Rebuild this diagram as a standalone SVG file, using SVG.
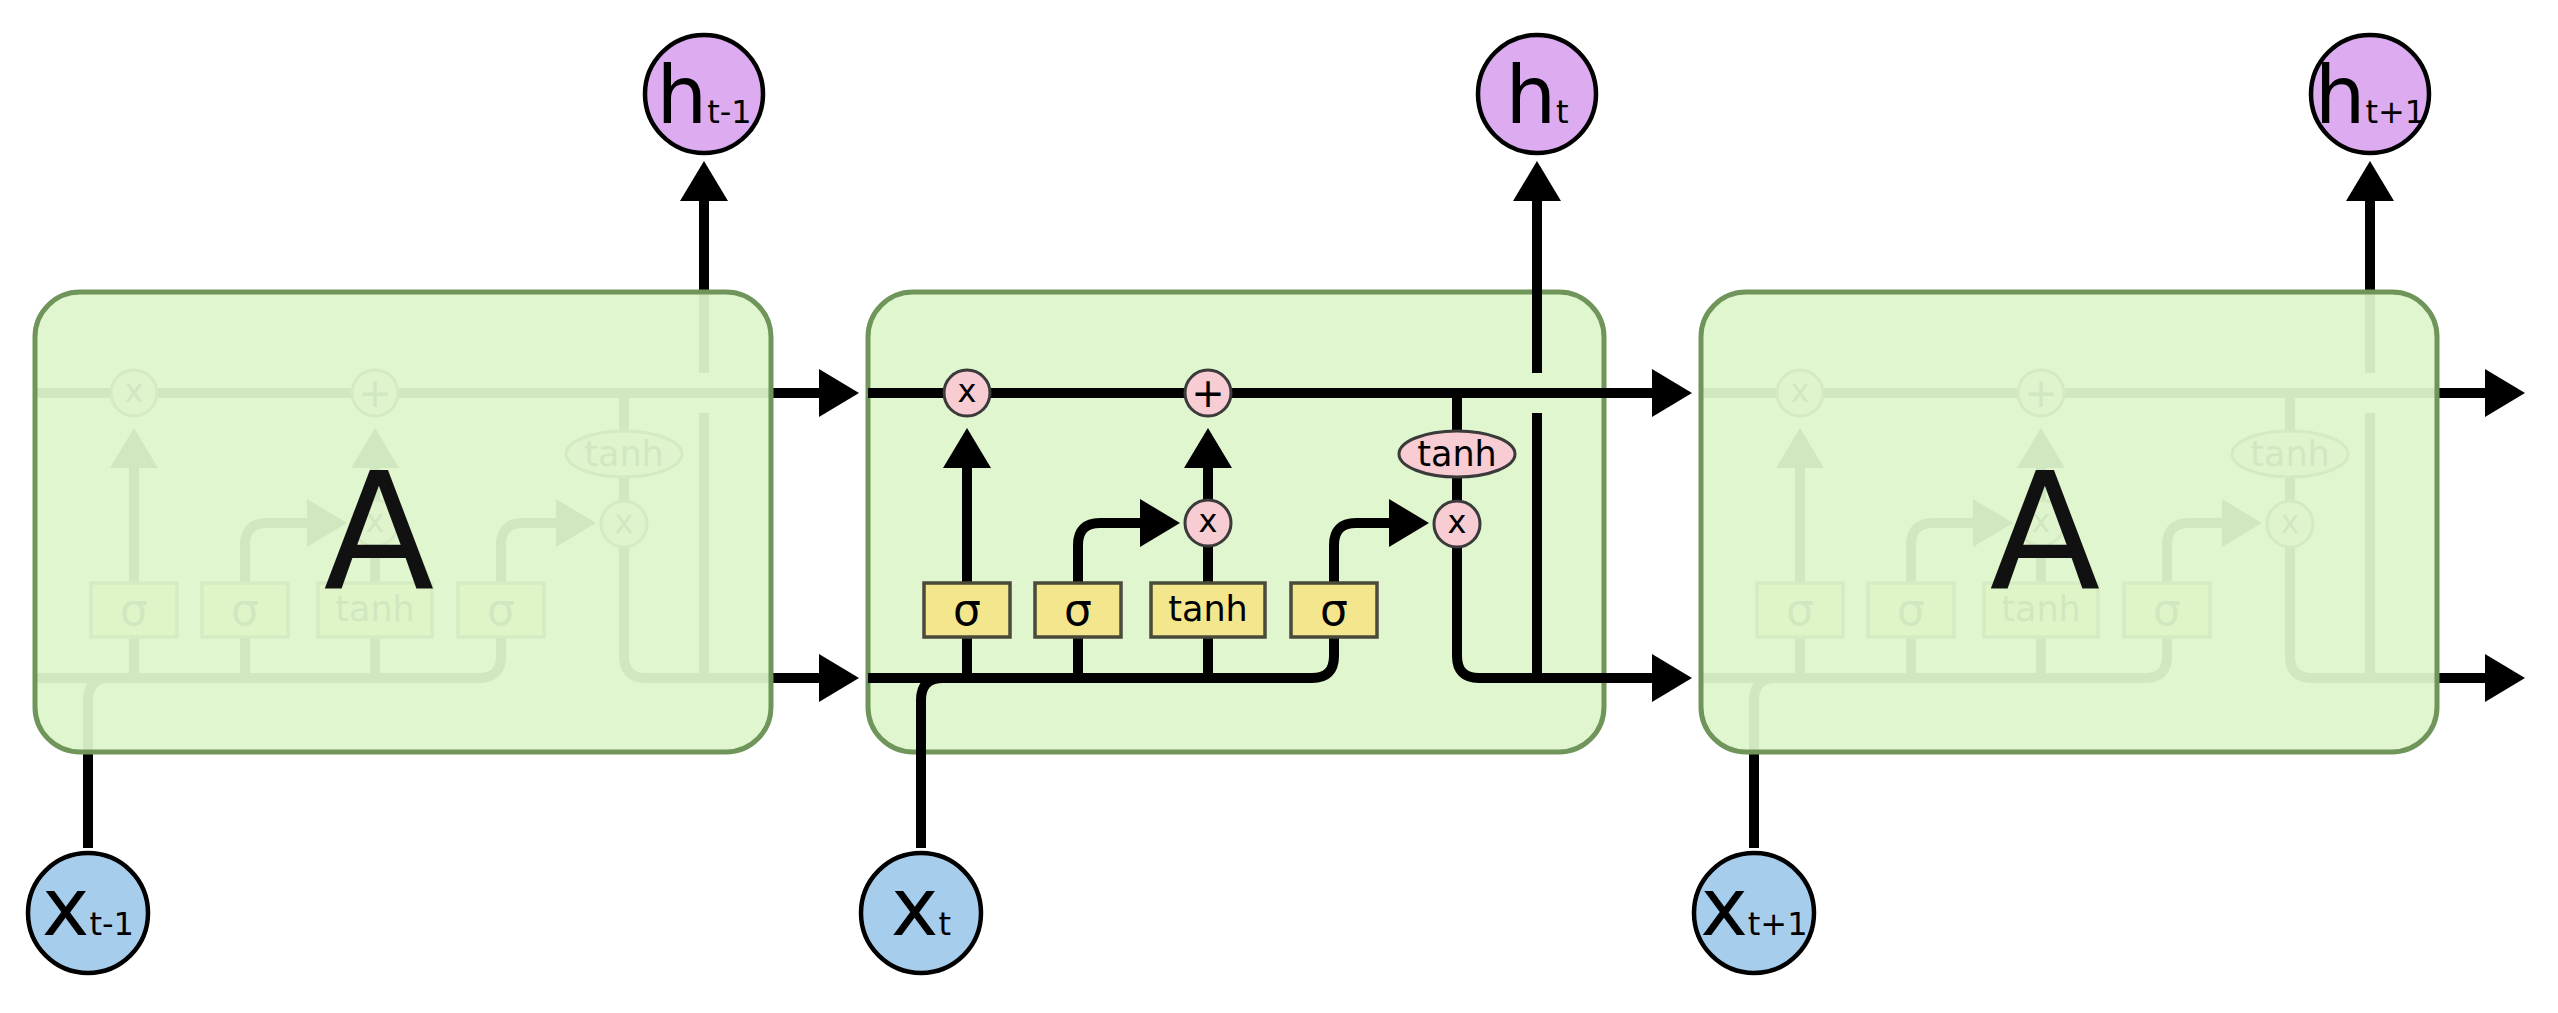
<svg xmlns="http://www.w3.org/2000/svg" width="2558" height="1013" viewBox="0 0 2558 1013">
<defs>
<style>
.ln{fill:none;stroke:#000;stroke-width:10}
.arr{marker-end:url(#arr)}
.blk{fill:#ddf5cc;fill-opacity:0.94;stroke:#70955a;stroke-width:5}
.op{fill:#f7ccd2;stroke:#3a3a3a;stroke-width:3}
.gate{fill:#f3e68c;stroke:#4a4a3a;stroke-width:3.5}
.hc{fill:#dcabf0;stroke:#000;stroke-width:4.5}
.xc{fill:#a7cdec;stroke:#000;stroke-width:4.5}
text{font-family:"DejaVu Sans","Liberation Sans",sans-serif;fill:#000}
.t-op{font-size:32px;text-anchor:middle}
.t-plus{font-size:40px;text-anchor:middle}
.t-gate{font-size:35px;text-anchor:middle}
.t-sig{font-size:44px;text-anchor:middle}
.t-main{font-size:80px;text-anchor:middle}
.sub{font-size:32px}
.t-A{font-size:162px;text-anchor:middle;fill:#111}
</style>
<marker id="arr" markerUnits="userSpaceOnUse" markerWidth="40" markerHeight="48" viewBox="0 0 40 48" refX="1" refY="24" orient="auto">
<path d="M0,0 L40,24 L0,48 z" fill="#000"/>
</marker>
</defs>
<rect width="2558" height="1013" fill="#fff"/>

<g id="cell-t-minus-1">
<use href="#lstm-t" x="-833"/>
<rect class="blk" x="35" y="292" width="736" height="460" rx="45"/>
<text class="t-A" x="379" y="588">A</text>
</g>

<g id="cell-t">
<rect class="blk" x="868" y="292" width="736" height="460" rx="45"/>
<g id="lstm-t">
<g id="connectors">
<path class="ln arr" d="M868 393 H1653"/>
<path class="ln arr" d="M868 678 H1312 Q1334 678 1334 656 V545 Q1334 523 1356 523 H1390"/>
<path class="ln arr" d="M967 678 V467"/>
<path class="ln arr" d="M1078 678 V545 Q1078 523 1100 523 H1141"/>
<path class="ln" d="M1208 678 V546"/>
<path class="ln arr" d="M1208 500 V467"/>
<path class="ln" d="M1457 393 V432"/>
<path class="ln" d="M1457 476 V501"/>
<path class="ln arr" d="M1457 546 V656 Q1457 678 1479 678 H1653"/>
<path class="ln" d="M1537 678 V413"/>
<path class="ln arr" d="M1537 373 V200"/>
<path class="ln" d="M921 848 V700 Q921 678 943 678"/>
</g>
<g id="op-forget-mul"><circle class="op" cx="967" cy="393" r="23"/><text class="t-op" x="967" y="402">x</text></g>
<g id="op-add"><circle class="op" cx="1208" cy="393" r="23"/><text class="t-plus" x="1208" y="407">+</text></g>
<g id="op-input-mul"><circle class="op" cx="1208" cy="523" r="23"/><text class="t-op" x="1208" y="532">x</text></g>
<g id="op-output-mul"><circle class="op" cx="1457" cy="524" r="23"/><text class="t-op" x="1457" y="533">x</text></g>
<g id="op-tanh"><ellipse class="op" cx="1457" cy="454" rx="58" ry="23"/><text class="t-gate" x="1457" y="466">tanh</text></g>
<g id="gate-forget"><rect class="gate" x="924" y="583" width="86" height="54"/><text class="t-sig" x="967" y="625">σ</text></g>
<g id="gate-input"><rect class="gate" x="1035" y="583" width="86" height="54"/><text class="t-sig" x="1078" y="625">σ</text></g>
<g id="gate-candidate"><rect class="gate" x="1151" y="583" width="114" height="54"/><text class="t-gate" x="1208" y="621">tanh</text></g>
<g id="gate-output"><rect class="gate" x="1291" y="583" width="86" height="54"/><text class="t-sig" x="1334" y="625">σ</text></g>
</g>
</g>

<g id="cell-t-plus-1">
<use href="#lstm-t" x="833"/>
<rect class="blk" x="1701" y="292" width="736" height="460" rx="45"/>
<text class="t-A" x="2045" y="588">A</text>
</g>

<g id="node-h-t-minus-1"><circle class="hc" cx="704" cy="94" r="59"/><text class="t-main" x="704" y="123">h<tspan class="sub">t-1</tspan></text></g>
<g id="node-h-t"><circle class="hc" cx="1537" cy="94" r="59"/><text class="t-main" x="1537" y="123">h<tspan class="sub">t</tspan></text></g>
<g id="node-h-t-plus-1"><circle class="hc" cx="2370" cy="94" r="59"/><text class="t-main" x="2370" y="123">h<tspan class="sub">t+1</tspan></text></g>
<g id="node-x-t-minus-1"><circle class="xc" cx="88" cy="913" r="60"/><text class="t-main" x="88" y="935">x<tspan class="sub">t-1</tspan></text></g>
<g id="node-x-t"><circle class="xc" cx="921" cy="913" r="60"/><text class="t-main" x="921" y="935">x<tspan class="sub">t</tspan></text></g>
<g id="node-x-t-plus-1"><circle class="xc" cx="1754" cy="913" r="60"/><text class="t-main" x="1754" y="935">x<tspan class="sub">t+1</tspan></text></g>
</svg>
